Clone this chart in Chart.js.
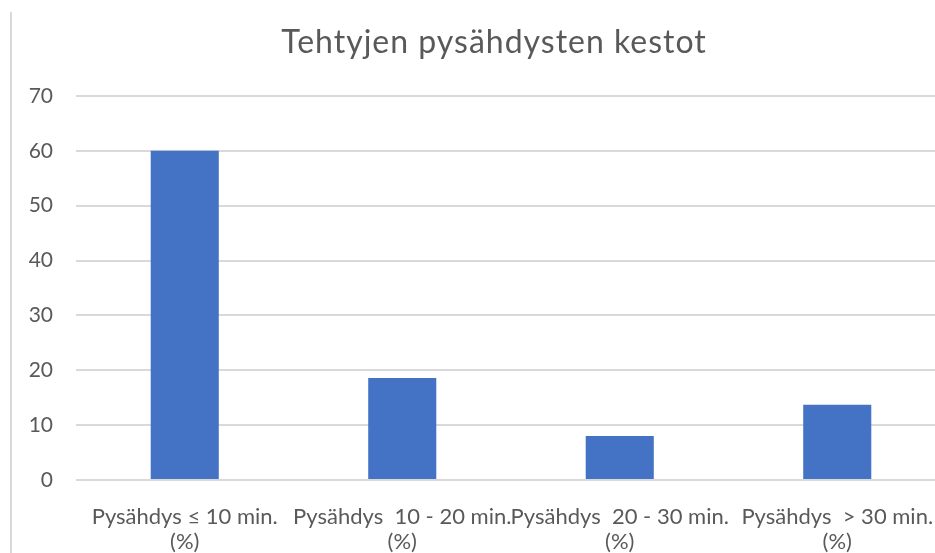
<!DOCTYPE html>
<html>
<head>
<meta charset="utf-8">
<script src="https://cdn.jsdelivr.net/npm/chart.js@4.4.1/dist/chart.umd.min.js"></script>
<style>
  html, body { margin: 0; padding: 0; background: #fff; overflow: hidden; }
  #wrap { width: 935px; height: 553px; overflow: hidden; position: relative; }
  canvas { display: block; }
</style>
</head>
<body>
<div id="wrap"><canvas id="c" width="986" height="553"></canvas></div>
<script>
// Stop durations, share of stops (%)
const chartTitle = 'Tehtyjen pysähdysten kestot';
const categories = [
  ['Pysähdys \u2264 10 min.', '(%)'],
  ['Pysähdys  10 - 20 min.', '(%)'],
  ['Pysähdys  20 - 30 min.', '(%)'],
  ['Pysähdys  > 30 min.', '(%)']
];
const shares = [60, 18.6, 8.0, 13.7];
const yTicks = [0, 10, 20, 30, 40, 50, 60, 70];

const textGrey = '#595959';
const gridGrey = '#d9d9d9';

// Left frame line and the heading, centred over the whole chart box
const frameAndTitle = {
  id: 'frameAndTitle',
  beforeDraw(chart) {
    const ctx = chart.ctx;
    ctx.save();
    ctx.strokeStyle = gridGrey;
    ctx.lineWidth = 2;
    ctx.beginPath();
    ctx.moveTo(11, 12);
    ctx.lineTo(11, chart.height);
    ctx.stroke();

    ctx.fillStyle = textGrey;
    ctx.font = '32px Lato';
    ctx.letterSpacing = '1px';
    ctx.textAlign = 'center';
    ctx.textBaseline = 'alphabetic';
    ctx.fillText(chartTitle, 494, 53);
    ctx.restore();
  }
};

new Chart(document.getElementById('c'), {
  type: 'bar',
  data: {
    labels: categories,
    datasets: [{
      data: shares,
      backgroundColor: '#4472C4',
      borderWidth: 0,
      categoryPercentage: 1,
      barPercentage: 0.313
    }]
  },
  options: {
    responsive: false,
    animation: false,
    layout: { padding: { left: 10, right: 40, top: 96, bottom: 0 } },
    plugins: {
      legend: { display: false },
      tooltip: { enabled: false },
      title: { display: false }
    },
    scales: {
      x: {
        grid: { display: false, drawTicks: false },
        border: { display: false },
        ticks: {
          color: textGrey,
          font: { family: 'Lato', size: 22, lineHeight: 1.15 },
          padding: 24,
          maxRotation: 0,
          autoSkip: false
        },
        afterFit(scale) { scale.height = 73; }
      },
      y: {
        min: 0,
        max: 70,
        afterBuildTicks(scale) { scale.ticks = yTicks.map(v => ({ value: v })); },
        grid: { color: gridGrey, lineWidth: 2, drawTicks: false },
        border: { display: false },
        ticks: {
          color: textGrey,
          font: { family: 'Lato', size: 21 },
          padding: 23
        },
        afterFit(scale) { scale.width = 66; }
      }
    }
  },
  plugins: [frameAndTitle]
});
</script>
</body>
</html>
